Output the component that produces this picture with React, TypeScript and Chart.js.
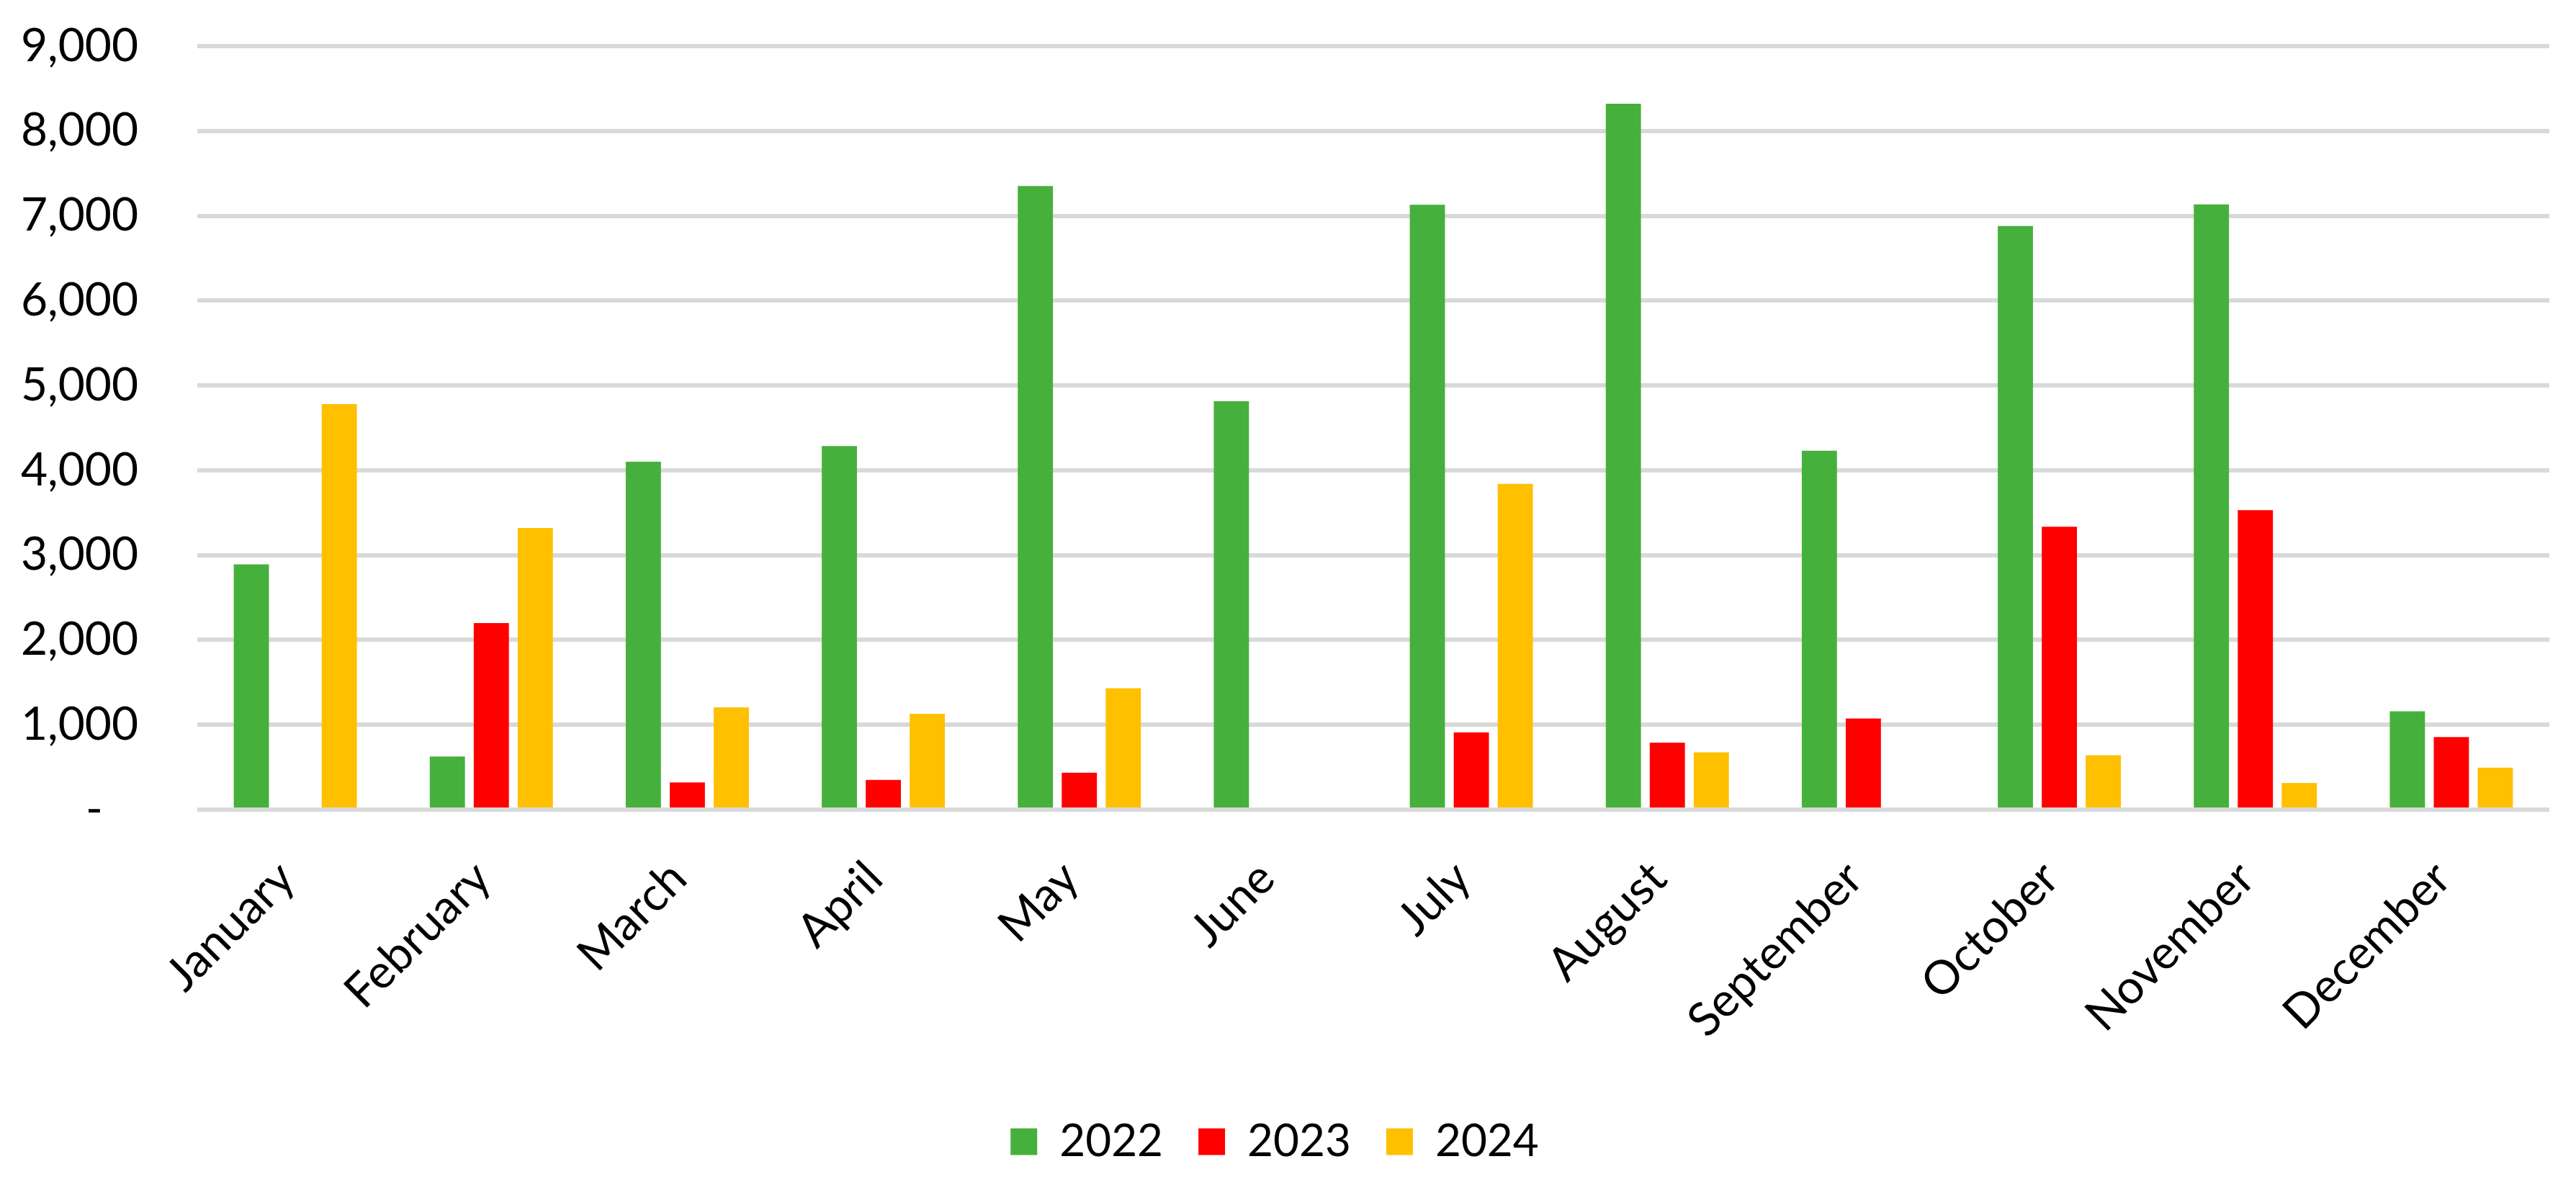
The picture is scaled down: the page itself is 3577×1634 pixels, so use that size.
import React, { useEffect, useRef } from "react";
import { Chart, registerables } from "chart.js";

Chart.register(...registerables);

const months = [
  "January", "February", "March", "April", "May", "June",
  "July", "August", "September", "October", "November", "December",
];
const seriesNames = ["2022", "2023", "2024"];
const values2022 = [2890, 627, 4100, 4285, 7350, 4815, 7130, 8320, 4230, 6880, 7135, 1160];
const values2023 = [null, 2200, 320, 350, 435, null, 910, 790, 1075, 3335, 3530, 855];
const values2024 = [4780, 3320, 1205, 1130, 1430, null, 3840, 675, null, 640, 315, 495];
const seriesColors = ["#46B03C", "#FF0000", "#FFC000"];
const yMin = 0;
const yMax = 9000;
const yStep = 1000;

const FONT = "Lato";

export default function App() {
  const canvasRef = useRef<HTMLCanvasElement | null>(null);

  useEffect(() => {
    const canvas = canvasRef.current;
    if (!canvas) return;
    const chart = new Chart(canvas, {
      type: "bar",
      data: {
        labels: months,
        datasets: [values2022, values2023, values2024].map((vals, i) => ({
          label: seriesNames[i],
          data: vals,
          backgroundColor: seriesColors[i],
          borderWidth: 0,
          categoryPercentage: 0.673,
          barPercentage: 0.8,
        })),
      },
      options: {
        animation: false,
        responsive: false,
        devicePixelRatio: 1,
        layout: { padding: { left: 0, right: 37, top: 64, bottom: 8 } },
        plugins: {
          tooltip: { enabled: false },
          legend: {
            position: "bottom",
            labels: {
              boxWidth: 37,
              boxHeight: 37,
              padding: 49,
              color: "#000",
              font: { family: FONT, size: 62 },
            },
          },
        },
        scales: {
          x: {
            grid: { display: false, drawTicks: false },
            border: { display: false },
            ticks: {
              color: "#000",
              font: { family: FONT, size: 65 },
              minRotation: 45,
              maxRotation: 45,
              padding: 57,
              labelOffset: -12,
              autoSkip: false,
            },
            afterFit: (scale: any) => {
              scale.height = 381;
            },
          },
          y: {
            min: yMin,
            max: yMax,
            grid: { color: "#D9D9D9", lineWidth: 6, drawTicks: false },
            border: { display: false },
            ticks: {
              stepSize: yStep,
              color: "#000",
              font: { family: FONT, size: 64 },
              padding: 82,
              callback: (v: any) => (Number(v) === 0 ? "-   " : Number(v).toLocaleString("en-US")),
            },
            afterFit: (scale: any) => {
              scale.width = 274;
              scale.paddingTop = 0;
              scale.paddingBottom = 0;
            },
          },
        },
      },
    });
    return () => chart.destroy();
  }, []);

  return (
    <div style={{ position: "fixed", left: 0, top: 0, width: 3577, height: 1634, background: "#fff" }}>
      <canvas ref={canvasRef} width={3577} height={1634} style={{ width: 3577, height: 1634, display: "block" }} />
    </div>
  );
}
